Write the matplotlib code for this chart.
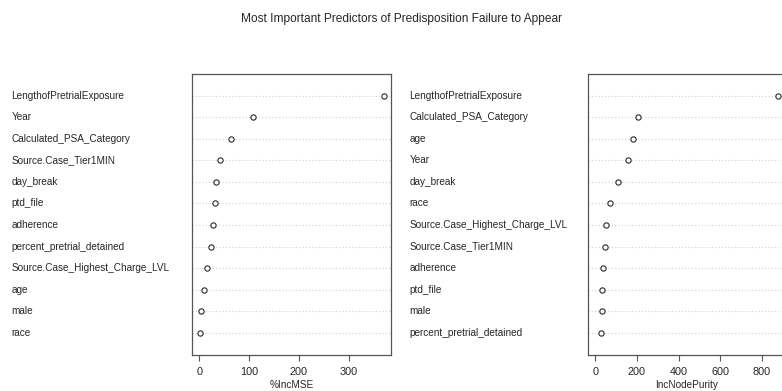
import matplotlib
matplotlib.use("Agg")
import matplotlib.pyplot as plt
from matplotlib.transforms import blended_transform_factory

plt.rcParams['font.family'] = ['Liberation Sans', 'DejaVu Sans']

title = "Most Important Predictors of Predisposition Failure to Appear"

# %IncMSE panel (top to bottom)
mse_vars = ["LengthofPretrialExposure", "Year", "Calculated_PSA_Category",
            "Source.Case_Tier1MIN", "day_break", "ptd_file", "adherence",
            "percent_pretrial_detained", "Source.Case_Highest_Charge_LVL",
            "age", "male", "race"]
mse_vals = [370, 108.6, 63, 41.5, 34, 31.5, 27.5, 23.5, 14.7, 10, 4, 0.5]
mse_ticks = [0, 100, 200, 300]

# IncNodePurity panel (top to bottom)
pur_vars = ["LengthofPretrialExposure", "Calculated_PSA_Category", "age",
            "Year", "day_break", "race", "Source.Case_Highest_Charge_LVL",
            "Source.Case_Tier1MIN", "adherence", "ptd_file", "male",
            "percent_pretrial_detained"]
pur_vals = [878, 203, 179, 155, 110, 72, 51, 48, 37, 32, 31, 25]
pur_ticks = [0, 200, 400, 600, 800]

W, H = 782, 391
fig = plt.figure(figsize=(W / 100, H / 100), dpi=100)
fig.patch.set_facecolor("white")

box_color = "#555555"
text_color = "#262626"


def dot_panel(rect, names, vals, ticks, xlabel, label_x, xmin=None):
    ax = fig.add_axes(rect)
    n = len(vals)
    ys = [n - 1 - i for i in range(n)]
    lo = min(vals) if xmin is None else xmin
    hi = max(vals)
    ext = 0.04 * (hi - lo)
    ax.set_xlim(lo - ext, hi + ext)
    ax.set_ylim(-1, n)
    for y in ys:
        ax.axhline(y, color="#cfcfcf", lw=0.8, ls=(0, (1, 2)), zorder=1)
    ax.plot(vals, ys, ls="none", marker="o", ms=3.8, mfc="white",
            mec="#2a2a2a", mew=0.8, zorder=3)
    ax.set_yticks([])
    ax.set_xticks(ticks)
    ax.set_xticklabels([str(t) for t in ticks], fontsize=7.8, color=text_color)
    ax.tick_params(axis="x", direction="out", length=4.5, width=0.8,
                   color=box_color, pad=4.5)
    for s in ax.spines.values():
        s.set_color(box_color)
        s.set_linewidth(0.9)
    ax.set_xlabel(xlabel, fontsize=7.2, color=text_color, labelpad=2.5)
    tr = blended_transform_factory(fig.transFigure, ax.transData)
    for name, y in zip(names, ys):
        ax.text(label_x, y, name, transform=tr, ha="left", va="center",
                fontsize=7.2, color=text_color, clip_on=False)
    return ax


top_px, bot_px = 74, 354.5
bottom = (H - bot_px) / H
height = (bot_px - top_px) / H

dot_panel([192.3 / W, bottom, (391 - 192.3) / W, height],
          mse_vars, mse_vals, mse_ticks, "%IncMSE", 11.5 / W)
dot_panel([588 / W, bottom, (785.5 - 588) / W, height],
          pur_vars, pur_vals, pur_ticks, "IncNodePurity", 409.5 / W, xmin=0)

fig.text(401.5 / W, 1 - 19 / H, title, ha="center", va="center",
         fontsize=8.6, color=text_color)

fig.savefig("out.png", dpi=100)
